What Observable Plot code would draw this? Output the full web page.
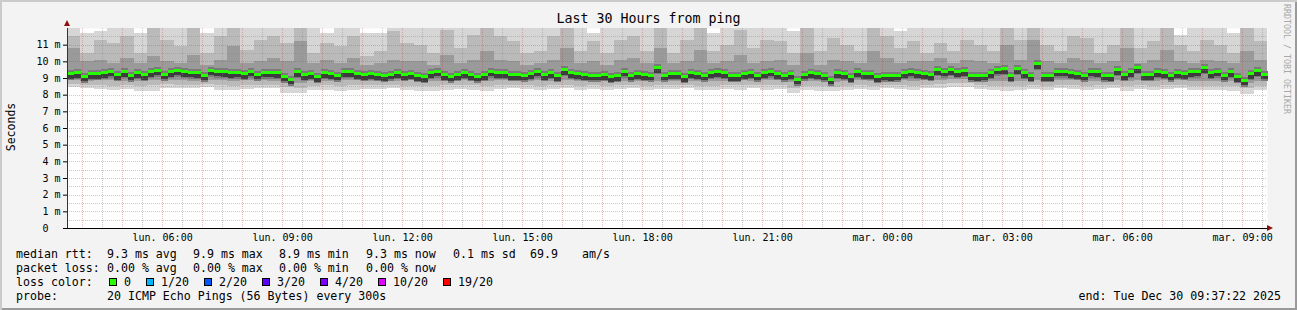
<!DOCTYPE html>
<html>
<head>
<meta charset="utf-8">
<script src="https://cdn.jsdelivr.net/npm/d3@7"></script>
<script src="https://cdn.jsdelivr.net/npm/@observablehq/plot@0.6"></script>
<style>
  html, body { margin: 0; padding: 0; background: #f3f3f3; }
  #wrap { position: relative; width: 1297px; height: 310px; overflow: hidden; background: #f3f3f3;
          box-shadow: inset 2px 2px 0 #cbcbcb, inset -2px -2px 0 #9a9a9a;
          font-family: "DejaVu Sans Mono", monospace; color: #000; }
  #chart { position: absolute; left: 0; top: 0; }
  .abs { position: absolute; white-space: pre; }
  .title { left: 0; width: 1297px; top: 11px; text-align: center; font-size: 13.3px; line-height: 16px; }
  .ylab { left: 11px; top: 127px; font-size: 11.5px; transform: translate(-50%, -50%) rotate(-90deg); }
  .wm { left: 1287px; top: 59px; font-size: 8.3px; color: #a8a8a8; transform: translate(-50%, -50%) rotate(90deg); }
  .leg { font-size: 11.6px; line-height: 14px; }
  .box { position: absolute; width: 8px; height: 8px; box-sizing: border-box; border: 1px solid #000; }
  .arrowUp { position: absolute; left: 64px; top: 20px; width: 0; height: 0;
             border-left: 3px solid transparent; border-right: 3px solid transparent; border-bottom: 6px solid #8f1010; }
  .arrowRight { position: absolute; left: 1267px; top: 225px; width: 0; height: 0;
             border-top: 3px solid transparent; border-bottom: 3px solid transparent; border-left: 6px solid #8f1010; }
</style>
</head>
<body>
<div id="wrap"></div>
<script>
// ---------- data ----------
const endTime = new Date(Date.UTC(2025, 11, 30, 9, 37, 22));
const spanHours = 30;
const medianStepMinutes = 10;
const smokeStepMinutes = 20;

// median RTT (ms), one value per 10-minute step
const medianMs = [
  9.30, 9.36, 9.14, 9.30, 9.30, 9.34, 9.44, 9.24, 9.42, 9.20,
  9.36, 9.24, 9.40, 9.50, 9.26, 9.42, 9.50, 9.42, 9.38, 9.36,
  9.20, 9.50, 9.44, 9.42, 9.36, 9.38, 9.30, 9.44, 9.26, 9.38,
  9.38, 9.34, 9.14, 8.96, 9.40, 9.24, 9.30, 9.10, 9.36, 9.30,
  9.20, 9.40, 9.40, 9.30, 9.24,
  9.30, 9.24, 9.16, 9.26, 9.36, 9.24, 9.30, 9.16, 9.10, 9.34,
  9.44, 9.24, 9.14, 9.24, 9.34, 9.24, 9.14, 9.24, 9.44, 9.34,
  9.36, 9.24, 9.24, 9.20, 9.30, 9.44, 9.24, 9.36, 9.16, 9.54,
  9.36, 9.30, 9.24, 9.20, 9.20, 9.24, 9.10, 9.16, 9.44, 9.20,
  9.30, 9.24, 9.20, 9.64, 9.20,
  9.30, 9.30, 9.10, 9.36, 9.30, 9.20, 9.36, 9.40, 9.36, 9.16,
  9.16, 9.30, 9.36, 9.20, 9.34, 9.44, 9.30, 9.20, 9.30, 8.96,
  9.26, 9.36, 9.30, 9.20, 8.96, 9.36, 9.30, 9.10, 9.40, 9.30,
  9.30, 9.10, 9.20, 9.16, 9.20, 9.36, 9.44, 9.36, 9.30, 9.24,
  9.54, 9.44, 9.54, 9.40, 9.46,
  9.20, 9.16, 9.20, 9.34, 9.56, 9.60, 9.16, 9.60, 9.34, 9.16,
  9.90, 9.16, 9.16, 9.44, 9.44, 9.36, 9.30, 9.20, 9.44, 9.40,
  9.20, 9.16, 9.54, 9.24, 9.40, 9.64, 9.24, 9.24, 9.40, 9.36,
  9.20, 9.36, 9.30, 9.40, 9.44, 9.66, 9.36, 9.44, 9.20, 9.40,
  9.10, 8.90, 9.30, 9.46, 9.26
];

// smoke (ping distribution, ms), one value per 20-minute step
const pingMax = [
  12.5, 11.7, 11.8, 12.5, 12.5, 11.7, 12.5, 12.5, 12.5, 12.5, 11.7, 12.5, 12.5, 12.5, 12.5, 12.5, 12.5, 11.8, 12.5, 11.7, 12.5, 12.5, 11.7,
  11.7, 12.5, 12.5, 12.5, 12.5, 12.5, 12.5, 12.5, 12.5, 12.5, 12.5, 12.5, 12.5, 12.5, 11.6, 12.5, 11.7, 12.5, 12.5, 12.5, 12.5, 12.5,
  12.5, 12.5, 12.5, 11.7, 12.5, 12.5, 12.5, 12.5, 12.5, 11.8, 12.5, 12.5, 12.5, 12.5, 12.5, 11.7, 12.5, 11.8, 12.5, 12.5, 12.5, 12.5, 12.5,
  12.5, 12.5, 12.5, 12.5, 11.7, 12.5, 12.5, 12.5, 12.5, 12.5, 12.5, 11.8, 12.5, 12.5, 12.5, 11.6, 12.5, 12.5, 12.5, 11.7, 12.5, 12.5
];
const ping90 = [
  11.5, 10.5, 11.3, 11.1, 11.5, 10.5, 12.0, 11.3, 10.9, 12.0, 10.5, 11.5, 12.0, 10.7, 11.3, 11.5, 11.1, 12.0, 10.5, 11.1, 10.9, 11.5, 10.3,
  10.6, 11.8, 11.1, 11.0, 10.5, 11.9, 10.8, 11.6, 12.0, 11.5, 11.2, 10.5, 10.6, 11.5, 12.0, 10.6, 11.2, 10.5, 11.3, 11.5, 10.6, 12.0,
  10.5, 11.3, 12.0, 10.6, 11.0, 11.9, 10.8, 11.3, 11.2, 10.5, 12.0, 10.6, 11.4, 11.0, 10.6, 12.0, 11.5, 10.8, 11.2, 10.5, 11.1, 10.6, 11.3,
  11.0, 10.6, 12.0, 11.3, 12.0, 11.0, 10.6, 11.5, 11.4, 10.5, 11.0, 12.0, 10.8, 11.2, 12.0, 11.0, 10.6, 11.3, 11.0, 10.5, 12.0, 11.2
];
const ping75 = [
  10.8, 10.0, 10.1, 9.9, 10.2, 9.9, 10.3, 10.0, 9.9, 10.4, 9.8, 10.1, 10.9, 9.9, 10.0, 10.2, 10.0, 11.2, 9.9, 10.1, 9.9, 10.2, 9.8,
  9.9, 10.1, 10.0, 10.0, 9.8, 10.4, 9.9, 10.1, 10.6, 10.1, 10.0, 9.8, 9.9, 10.1, 10.8, 9.9, 10.0, 9.8, 10.1, 10.2, 9.9, 10.8,
  9.9, 10.0, 10.7, 9.9, 10.0, 10.4, 9.9, 10.0, 10.1, 9.8, 10.5, 9.8, 10.1, 10.0, 9.9, 10.6, 10.2, 9.9, 10.0, 10.0, 10.2, 9.9, 10.1,
  10.0, 9.9, 11.0, 10.1, 11.3, 10.0, 9.9, 10.2, 10.1, 9.9, 10.0, 10.8, 9.9, 10.1, 10.7, 10.0, 9.9, 10.1, 10.0, 9.9, 10.6, 10.1
];
const ping25 = [
  8.9, 8.85, 8.9, 8.9, 8.85, 8.85, 8.9, 8.9, 8.9, 8.85, 8.9, 8.9, 8.85, 8.9, 8.9, 8.85, 8.75, 8.7, 8.85, 8.85, 8.9, 8.9, 8.85,
  8.85, 8.85, 8.9, 8.85, 8.8, 8.85, 8.9, 8.85, 8.85, 8.9, 8.9, 8.85, 8.9, 8.85, 8.9, 8.85, 8.85, 8.8, 8.85, 8.85, 8.85, 8.85,
  8.85, 8.85, 8.8, 8.85, 8.85, 8.9, 8.85, 8.9, 8.9, 8.75, 8.85, 8.8, 8.75, 8.85, 8.9, 8.85, 8.85, 8.9, 8.85, 8.9, 8.9, 8.95, 8.95,
  8.9, 8.85, 8.85, 8.85, 8.9, 8.85, 8.9, 8.9, 8.85, 8.85, 8.9, 8.85, 8.9, 8.85, 8.9, 8.9, 8.85, 8.85, 8.85, 8.8, 8.7, 8.85
];
const ping10 = [
  8.65, 8.6, 8.6, 8.55, 8.6, 8.5, 8.6, 8.65, 8.6, 8.6, 8.65, 8.6, 8.55, 8.6, 8.6, 8.6, 8.45, 8.4, 8.55, 8.6, 8.55, 8.6, 8.6,
  8.6, 8.6, 8.55, 8.55, 8.5, 8.6, 8.6, 8.6, 8.55, 8.6, 8.6, 8.6, 8.55, 8.6, 8.6, 8.55, 8.6, 8.55, 8.6, 8.6, 8.55, 8.6,
  8.6, 8.6, 8.5, 8.55, 8.6, 8.6, 8.6, 8.6, 8.6, 8.4, 8.55, 8.5, 8.45, 8.55, 8.6, 8.55, 8.6, 8.6, 8.55, 8.6, 8.65, 8.7, 8.7,
  8.6, 8.55, 8.5, 8.55, 8.6, 8.55, 8.6, 8.6, 8.55, 8.6, 8.6, 8.5, 8.6, 8.55, 8.6, 8.6, 8.55, 8.55, 8.55, 8.5, 8.4, 8.55
];
const pingMin = [
  8.45, 8.4, 8.35, 8.3, 8.35, 8.2, 8.25, 8.4, 8.4, 8.4, 8.45, 8.3, 8.3, 8.35, 8.4, 8.4, 8.1, 8.1, 8.3, 8.3, 8.25, 8.3, 8.35,
  8.35, 8.4, 8.3, 8.25, 8.2, 8.3, 8.35, 8.3, 8.25, 8.35, 8.4, 8.35, 8.3, 8.35, 8.4, 8.3, 8.35, 8.3, 8.35, 8.4, 8.3, 8.35,
  8.35, 8.4, 8.3, 8.3, 8.35, 8.3, 8.4, 8.3, 8.35, 8.1, 8.3, 8.25, 8.2, 8.3, 8.35, 8.3, 8.4, 8.35, 8.3, 8.4, 8.4, 8.45, 8.45,
  8.35, 8.3, 8.25, 8.3, 8.35, 8.3, 8.4, 8.35, 8.3, 8.35, 8.4, 8.2, 8.35, 8.3, 8.35, 8.4, 8.3, 8.3, 8.3, 8.2, 8.05, 8.3
];

// axes
const yTicks = [0, 1, 2, 3, 4, 5, 6, 7, 8, 9, 10, 11];
const yTickLabels = ["0\u00a0\u00a0", "1 m", "2 m", "3 m", "4 m", "5 m", "6 m", "7 m", "8 m", "9 m", "10 m", "11 m"];
const yMinorGrid = [0.5, 1.5, 2.5, 3.5, 4.5, 5.5, 6.5, 7.5, 8.5, 9.5, 10.5, 11.5];
const xTickTimes = ["2025-12-29T06:00Z", "2025-12-29T09:00Z", "2025-12-29T12:00Z", "2025-12-29T15:00Z", "2025-12-29T18:00Z",
                    "2025-12-29T21:00Z", "2025-12-30T00:00Z", "2025-12-30T03:00Z", "2025-12-30T06:00Z", "2025-12-30T09:00Z"];
const xTickLabels = ["lun. 06:00", "lun. 09:00", "lun. 12:00", "lun. 15:00", "lun. 18:00",
                     "lun. 21:00", "mar. 00:00", "mar. 03:00", "mar. 06:00", "mar. 09:00"];

// legend text
const titleText = "Last 30 Hours from ping";
const rttStats = ["9.3 ms avg", "9.9 ms max", "8.9 ms min", "9.3 ms now", "0.1 ms sd", "69.9", "am/s"];
const lossStats = ["0.00 % avg", "0.00 % max", "0.00 % min", "0.00 % now"];
const lossLabels = ["0", "1/20", "2/20", "3/20", "4/20", "10/20", "19/20"];
const lossColors = ["#26ff00", "#00b8ff", "#0059ff", "#5e00ff", "#7e00ff", "#dd00ff", "#ff0000"];
const probeText = "20 ICMP Echo Pings (56 Bytes) every 300s";
const endText = "end: Tue Dec 30 09:37:22 2025";

// ---------- build tables ----------
const startTime = new Date(+endTime - spanHours * 3600e3);
const medMs = medianStepMinutes * 60e3, smkMs = smokeStepMinutes * 60e3;
const med = medianMs.map((v, i) => ({t0: new Date(+startTime + i * medMs), t1: new Date(+startTime + (i + 1) * medMs), v}));
const smoke = pingMin.map((v, i) => ({
  t0: new Date(+startTime + i * smkMs), t1: new Date(+startTime + (i + 1) * smkMs),
  min: v, p10: ping10[i], p25: ping25[i], p75: ping75[i], p90: ping90[i], max: pingMax[i]
}));
const xTickDates = xTickTimes.map(s => new Date(s));
const hourGrid = d3.utcHour.range(startTime, endTime);
const halfGrid = d3.utcMinute.every(30).range(startTime, endTime).filter(d => d.getUTCMinutes() === 30);

const chart = Plot.plot({
  width: 1297, height: 245,
  marginLeft: 67, marginRight: 30, marginTop: 28, marginBottom: 17,
  style: {background: "transparent", fontFamily: "'DejaVu Sans Mono', monospace", fontSize: "10px", color: "#000", overflow: "visible"},
  x: {type: "utc", domain: [startTime, endTime], ticks: xTickDates,
      tickFormat: d => xTickLabels[xTickDates.findIndex(t => +t === +d)], tickSize: 0, tickPadding: 5, label: null},
  y: {domain: [0, 12], ticks: yTicks, tickFormat: d => yTickLabels[yTicks.indexOf(d)], tickSize: 4, tickPadding: 3, label: null},
  marks: [
    Plot.frame({fill: "#ffffff", stroke: "none"}),
    Plot.rect(smoke, {x1: "t0", x2: "t1", y1: "min", y2: "max", fill: "#d6d6d6", clip: true, shapeRendering: "crispEdges"}),
    Plot.rect(smoke, {x1: "t0", x2: "t1", y1: "p10", y2: "p90", fill: "#bababa", clip: true, shapeRendering: "crispEdges"}),
    Plot.rect(smoke, {x1: "t0", x2: "t1", y1: "p25", y2: "p75", fill: "#9a9a9a", clip: true, shapeRendering: "crispEdges"}),
    Plot.link(med, {x1: "t0", x2: "t1", y1: "v", y2: "v", stroke: "#7a7a7a", strokeWidth: 10, dy: 1.5, shapeRendering: "crispEdges"}),
    Plot.link(med, {x1: "t0", x2: "t1", y1: "v", y2: "v", stroke: "#3c3c3c", strokeWidth: 5, dy: 2.5, shapeRendering: "crispEdges"}),
    Plot.ruleY(yMinorGrid, {stroke: "#8c8c8c", strokeOpacity: 0.45, strokeDasharray: "1,1", shapeRendering: "crispEdges"}),
    Plot.ruleX(halfGrid, {stroke: "#8c8c8c", strokeOpacity: 0.45, strokeDasharray: "1,1", shapeRendering: "crispEdges"}),
    Plot.ruleY(yTicks.filter(d => d > 0), {stroke: "#c83232", strokeOpacity: 0.32, strokeDasharray: "1,1", shapeRendering: "crispEdges"}),
    Plot.ruleX(hourGrid, {stroke: "#c83232", strokeOpacity: 0.32, strokeDasharray: "1,1", shapeRendering: "crispEdges"}),
    Plot.link(med, {x1: "t0", x2: "t1", y1: "v", y2: "v", stroke: lossColors[0], strokeWidth: 3, shapeRendering: "crispEdges"}),
    Plot.ruleX([startTime], {stroke: "#333", shapeRendering: "crispEdges"}),
    Plot.ruleY([0], {stroke: "#000", shapeRendering: "crispEdges"})
  ]
});
chart.id = "chart";

const wrap = document.getElementById("wrap");
wrap.appendChild(chart);

function addText(cls, txt, left, top) {
  const d = document.createElement("div");
  d.className = "abs " + cls;
  d.textContent = txt;
  if (left != null) d.style.left = left + "px";
  if (top != null) d.style.top = top + "px";
  wrap.appendChild(d);
  return d;
}
addText("title", titleText);
addText("ylab", "Seconds");
addText("wm", "RRDTOOL / TOBI OETIKER");
const a1 = document.createElement("div"); a1.className = "arrowUp"; wrap.appendChild(a1);
const a2 = document.createElement("div"); a2.className = "arrowRight"; wrap.appendChild(a2);

// legend rows
const rowTop = [247, 261, 275, 289];
addText("leg", "median rtt:", 16, rowTop[0]);
const rttX = [107, 193, 279, 366, 453, 530, 582];
rttStats.forEach((s, i) => addText("leg", s, rttX[i], rowTop[0]));
addText("leg", "packet loss:", 16, rowTop[1]);
const lossX = [107, 193, 279, 366];
lossStats.forEach((s, i) => addText("leg", s, lossX[i], rowTop[1]));
addText("leg", "loss color:", 16, rowTop[2]);
let bx = 109;
lossLabels.forEach((s, i) => {
  const b = document.createElement("div");
  b.className = "box"; b.style.left = bx + "px"; b.style.top = "278px"; b.style.background = lossColors[i];
  wrap.appendChild(b);
  addText("leg", s, bx + 15, rowTop[2]);
  bx = bx + 15 + s.length * 7 + 15;
});
addText("leg", "probe:", 16, rowTop[3]);
addText("leg", probeText, 107, rowTop[3]);
const e = addText("leg", endText, null, rowTop[3]);
e.style.right = (1297 - 1281) + "px";
</script>
</body>
</html>
